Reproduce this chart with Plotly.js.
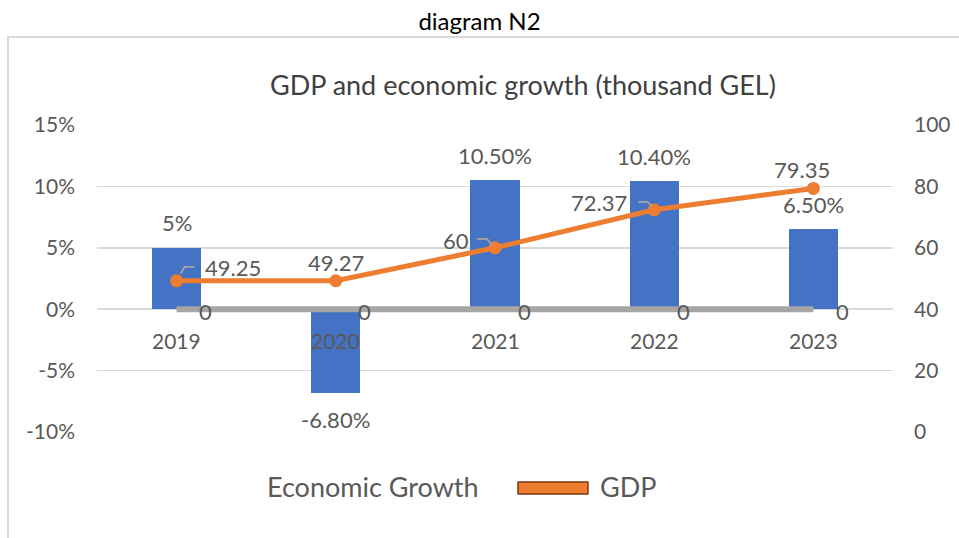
<!DOCTYPE html>
<html>
<head>
<meta charset="utf-8">
<script src="https://cdn.plot.ly/plotly-3.0.1.min.js"></script>
<style>
html,body{margin:0;padding:0;background:#fff;}
#chart{width:959px;height:538px;}
</style>
</head>
<body>
<div id="chart"></div>
<script>
const years = ["2019", "2020", "2021", "2022", "2023"];
const growth = [5, -6.8, 10.5, 10.4, 6.5];
const growthLabels = ["5%", "-6.80%", "10.50%", "10.40%", "6.50%"];
const gdp = [49.25, 49.27, 60, 72.37, 79.35];
const gdpLabels = ["49.25", "49.27", "60", "72.37", "79.35"];
const baseline = [0, 0, 0, 0, 0];
const leftTicks = [-10, -5, 0, 5, 10, 15];
const leftTickText = ["-10%", "-5%", "0%", "5%", "10%", "15%"];
const rightTicks = [0, 20, 40, 60, 80, 100];
const rightTickText = ["0", "20", "40", "60", "80", "100"];

const FONT = "Lato, 'Open Sans', sans-serif";
const TXT = "#595959";

const traces = [
  {
    type: "bar", x: years, y: growth, name: "Economic Growth",
    marker: {color: "#4472c4"}, width: 0.31, yaxis: "y", showlegend: false
  },
  {
    type: "scatter", mode: "lines", x: years, y: baseline, name: "Series3",
    line: {color: "#a5a5a5", width: 6}, yaxis: "y", showlegend: false
  },
  {
    type: "scatter", mode: "lines+markers", x: years, y: gdp, name: "GDP",
    line: {color: "#ed7d31", width: 5}, marker: {color: "#ed7d31", size: 13},
    yaxis: "y2", showlegend: false
  }
];

const annotations = [];
// bar labels
growth.forEach((v, i) => {
  annotations.push({
    x: i, y: v, xref: "x", yref: "y", text: growthLabels[i],
    showarrow: false, yshift: v >= 0 ? 25 : -27, xanchor: "center", yanchor: "middle",
    font: {family: FONT, size: 22, color: TXT}
  });
});
// category labels near zero line, and baseline value labels
years.forEach((c, i) => {
  annotations.push({
    x: i, y: baseline[i], xref: "x", yref: "y", text: c, showarrow: false, yshift: -31,
    xanchor: "center", yanchor: "middle",
    font: {family: FONT, size: 21, color: TXT}
  });
  annotations.push({
    x: i, y: baseline[i], xref: "x", yref: "y", text: String(baseline[i]), showarrow: false,
    xshift: 29, yshift: -2, xanchor: "center", yanchor: "middle",
    font: {family: FONT, size: 22, color: TXT}
  });
});
// GDP labels (pixel offsets of label centre from the point)
const gdpOff = [[56, 13], [0, 18], [-39, 7], [-55, 7], [-11, 19]];
gdp.forEach((v, i) => {
  annotations.push({
    x: i, y: v, xref: "x", yref: "y2", text: gdpLabels[i],
    showarrow: false, xshift: gdpOff[i][0], yshift: gdpOff[i][1],
    xanchor: "center", yanchor: "middle",
    font: {family: FONT, size: 22, color: TXT}
  });
});
// chart title
annotations.push({
  x: 0.5352, y: 1.1303, xref: "paper", yref: "paper", showarrow: false,
  xanchor: "center", yanchor: "middle",
  text: "GDP and economic growth (thousand GEL)",
  font: {family: FONT, size: 27, color: "#404040"}
});
// legend
annotations.push({
  x: 0.3467, y: -0.1759, xref: "paper", yref: "paper", showarrow: false,
  xanchor: "center", yanchor: "middle",
  text: "Economic Growth", font: {family: FONT, size: 27, color: TXT}
});
annotations.push({
  x: 0.6294, y: -0.1759, xref: "paper", yref: "paper", showarrow: false,
  xanchor: "left", yanchor: "middle",
  text: "GDP", font: {family: FONT, size: 27, color: TXT}
});

const shapes = [
  {type: "rect", xref: "paper", yref: "paper", x0: -0.1118, x1: 1.4, y0: -0.7, y1: 1.2866,
   line: {color: "#d9d9d9", width: 2}, fillcolor: "rgba(0,0,0,0)", layer: "below"},
  {type: "rect", xref: "paper", yref: "paper", x0: 0.5289, x1: 0.6168, y0: -0.2020, y1: -0.1629,
   line: {color: "#7a3a0f", width: 1.5}, fillcolor: "#ed7d31"}
];
// leader lines for three GDP labels (elbow paths in pixels around the point)
const leaders = {0: "M4,7L8,14L18,14", 2: "M-18,9L-8,9L-3,3", 3: "M-16,8L-7,8L-2,4"};
Object.keys(leaders).forEach((k) => {
  const i = Number(k);
  shapes.push({
    type: "path", xref: "x", yref: "y2", xsizemode: "pixel", ysizemode: "pixel",
    xanchor: i, yanchor: gdp[i], path: leaders[k],
    line: {color: "#a5a5a5", width: 1.8}
  });
});

const layout = {
  width: 959, height: 538,
  margin: {l: 97, r: 66, t: 125, b: 106},
  paper_bgcolor: "#ffffff", plot_bgcolor: "#ffffff",
  title: {text: "diagram N2", font: {family: FONT, size: 24, color: "#000000"},
          x: 0.5, xref: "container", y: 1 - 22/538, yref: "container", yanchor: "middle"},
  showlegend: false,
  bargap: 0,
  xaxis: {type: "category", range: [-0.5, 4.5], showticklabels: false, showgrid: false,
          zeroline: false, showline: false, ticks: ""},
  yaxis: {range: [-10, 15], tickmode: "array", tickvals: leftTicks, ticktext: leftTickText, showgrid: true,
          gridcolor: "#d9d9d9", gridwidth: 1.5, zeroline: false, showline: false,
          ticklabelstandoff: 21, tickfont: {family: FONT, size: 21, color: TXT}},
  yaxis2: {range: [0, 100], tickmode: "array", tickvals: rightTicks, ticktext: rightTickText,
           overlaying: "y", side: "right",
           showgrid: false, zeroline: false, showline: false, ticklabelstandoff: 20,
           tickfont: {family: FONT, size: 21, color: TXT}},
  annotations: annotations,
  shapes: shapes
};

Plotly.newPlot("chart", traces, layout, {staticPlot: true, displayModeBar: false});
</script>
</body>
</html>
